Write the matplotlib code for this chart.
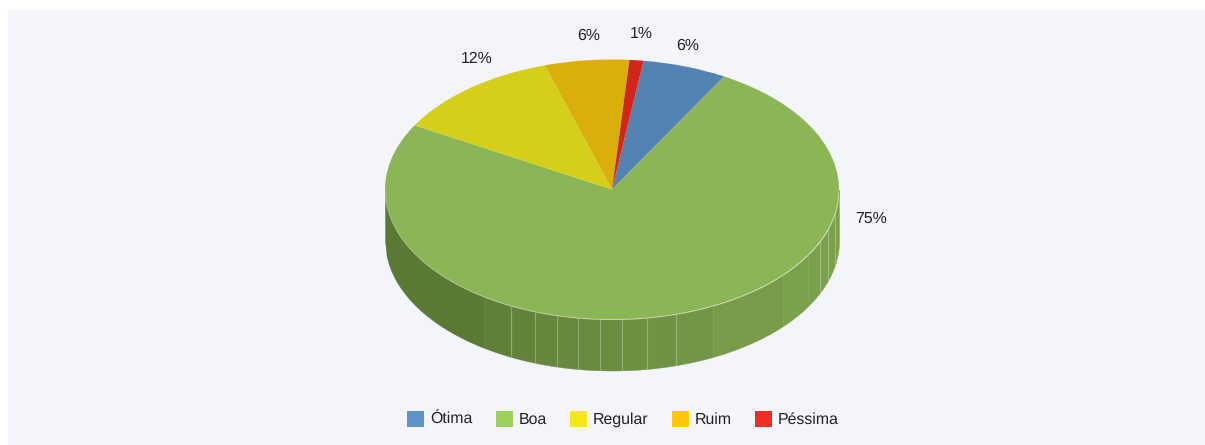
import numpy as np
import matplotlib.pyplot as plt
from matplotlib.patches import Patch, Rectangle
from matplotlib.colors import to_rgb

plt.rcParams['font.family'] = ['Liberation Sans', 'DejaVu Sans']
plt.rcParams['text.hinting'] = 'none'

categories = ['Ótima', 'Boa', 'Regular', 'Ruim', 'Péssima']
values = [6, 75, 12, 6, 1]

slice_colors = ['#5283B3', '#8CB655', '#D6CF19', '#DBAF0B', '#D1261B']
legend_colors = ['#5F93C9', '#9DCF5F', '#F2E816', '#FFC60B', '#EE2E24']
label_pos = [(688, 45.5), (871.5, 218.5), (476.5, 58.5), (589, 36), (641, 33.5)]

# pixel layout of the pie
W, H = 1205, 445
CX, CY = 612, 189.5
RX, RY = 227, 130
DEPTH = 51 / RY
FACETS = [385, 484, 511, 535, 557, 578, 600, 622, 647, 676, 713, 783, 808, 820, 828, 835, 839]
LIT_LINES = [511, 535, 557, 578, 600, 622, 647, 676, 820, 828, 835]

fig = plt.figure(figsize=(W / 100, H / 100), dpi=100, facecolor='white')
fig.add_artist(Rectangle((8 / W, 0), (W - 8) / W, (H - 10) / H, transform=fig.transFigure,
                         facecolor='#F3F5FA', edgecolor='none', zorder=-1))

ax = fig.add_axes([0, 0, 1, 1])
ax.pie(values, colors=slice_colors, startangle=82, counterclock=False, radius=1,
       wedgeprops={'linewidth': 0, 'zorder': 3})
ax.set_aspect('auto')
ax.set_xlim((0 - CX) / RX, (W - CX) / RX)
ax.set_ylim((CY - H) / RY, CY / RY)

# side wall of the disc, one shaded facet at a time
dark = np.array(to_rgb('#5A7935'))
light = np.array(to_rgb('#7BA04B'))
for left, right in zip(FACETS[:-1], FACETS[1:]):
    x = np.linspace((left - CX) / RX, (right - CX) / RX, 60)
    top = -np.sqrt(np.clip(1 - x ** 2, 0, 1))
    mid = (left + right) / 2
    frac = np.clip((mid - 484) / (790 - 484), 0, 1) * 0.85 + (0.15 if mid > 484 else 0)
    ax.fill_between(x, top - DEPTH, top, color=dark + (light - dark) * frac, linewidth=0.3, zorder=1)

for px in LIT_LINES:
    x = (px - CX) / RX
    top = -np.sqrt(1 - x ** 2)
    ax.plot([x, x], [top, top - DEPTH], color='white', alpha=0.22, linewidth=0.9, zorder=2)

# pale rim along the front edge of the top face
t = np.linspace(-1, 1, 300)
ax.plot(t, -np.sqrt(1 - t ** 2), color='white', alpha=0.22, linewidth=0.8, zorder=4)

for value, (px, py) in zip(values, label_pos):
    fig.text(px / W, 1 - py / H, f'{value}%', fontsize=11.4, color='#222222', ha='center', va='center')

handles = [Patch(facecolor=c, edgecolor='none', label=n) for c, n in zip(legend_colors, categories)]
fig.legend(handles=handles, loc='center', bbox_to_anchor=(623 / W, 1 - 419 / H), ncols=5, frameon=False,
           fontsize=11.4, handlelength=1.07, handleheight=1.19, handletextpad=0.38, columnspacing=1.46,
           labelcolor='#222222', borderpad=0)

fig.savefig('out.png', dpi=100)
